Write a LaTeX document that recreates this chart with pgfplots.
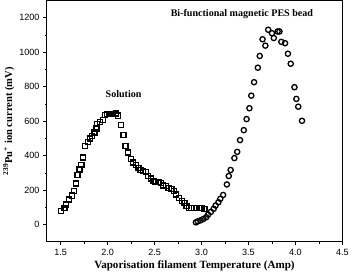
\documentclass[border=0pt]{standalone}
\usepackage{fontspec}
\setmainfont{Liberation Serif}
\setsansfont{Liberation Sans}
\usepackage{pgfplots}
\pgfplotsset{compat=1.18}
\begin{document}
\begin{tikzpicture}
\begin{axis}[
  scale only axis,
  width=294pt, height=240pt,
  xmin=1.35, xmax=4.5, ymin=-100, ymax=1300,
  xtick={1.5,2.0,...,4.5},
  xticklabels={1.5,2.0,2.5,3.0,3.5,4.0,4.5},
  ytick={0,200,...,1200},
  yticklabel style={/pgf/number format/1000 sep={}},
  minor x tick num=1, minor y tick num=1,
  tick align=outside, tick pos=left,
  major tick length=3.5pt, minor tick length=2pt,
  every tick/.style={black, line width=0.7pt},
  axis line style={line width=0.9pt},
  /pgf/number format/assume math mode=true,
  /pgf/number format/1000 sep={},
  ticklabel style={font=\sffamily\fontsize{9}{10}\selectfont},
  xlabel={\textbf{Vaporisation filament Temperature (Amp)}},
  ylabel={\textbf{\textsuperscript{239}Pu\textsuperscript{+} ion current (mV)}},
  xlabel style={font=\fontsize{11}{12}\selectfont, yshift=2pt},
  ylabel style={font=\fontsize{10.5}{12}\selectfont, yshift=-2pt},
  clip=false,
]
\addplot[only marks, mark=square, mark size=2.5pt, line width=1.3pt, black] coordinates {
(1.50,78) (1.54,97) (1.56,117) (1.59,146) (1.62,168) (1.64,194) (1.66,239)
(1.68,286) (1.70,320) (1.72,344) (1.74,389) (1.76,457) (1.79,480) (1.81,500)
(1.83,515) (1.86,535) (1.88,558) (1.89,583) (1.92,597) (1.95,608) (1.97,637)
(1.99,641) (2.02,641) (2.04,641) (2.06,641) (2.09,645) (2.11,632) (2.14,577)
(2.17,519) (2.19,457) (2.22,418) (2.25,379) (2.27,360) (2.30,344) (2.33,327)
(2.35,315) (2.38,311) (2.41,305) (2.43,282) (2.46,268) (2.49,253) (2.51,247)
(2.54,247) (2.57,243) (2.59,227) (2.62,223) (2.65,214) (2.68,208) (2.71,194)
(2.73,175) (2.76,156) (2.79,136) (2.82,126) (2.84,107) (2.87,97) (2.89,97)
(2.92,97) (2.95,97) (2.98,97) (3.00,97) (3.03,92)
};
\addplot[only marks, mark=o, mark size=2.6pt, line width=1.3pt, black] coordinates {
(2.94,13) (2.96,19) (2.99,25) (3.02,33) (3.05,43) (3.07,58) (3.10,74)
(3.13,92) (3.15,111) (3.18,130) (3.20,150) (3.23,172) (3.27,233) (3.29,282)
(3.31,317) (3.35,386) (3.38,422) (3.41,490) (3.45,548) (3.48,612) (3.51,675)
(3.53,748) (3.56,826) (3.60,910) (3.62,978) (3.65,1075) (3.68,1038) (3.71,1130)
(3.75,1110) (3.77,1082) (3.81,1120) (3.83,1120) (3.85,1060) (3.89,1052)
(3.92,991) (3.95,933) (3.99,797) (4.01,729) (4.03,684) (4.07,602)
};
\node[font=\bfseries\fontsize{10}{12}\selectfont] at (axis cs:2.17,755) {Solution};
\node[font=\bfseries\fontsize{10}{12}\selectfont] at (axis cs:3.43,1220) {Bi-functional magnetic PES bead};
\end{axis}
\end{tikzpicture}
\end{document}
